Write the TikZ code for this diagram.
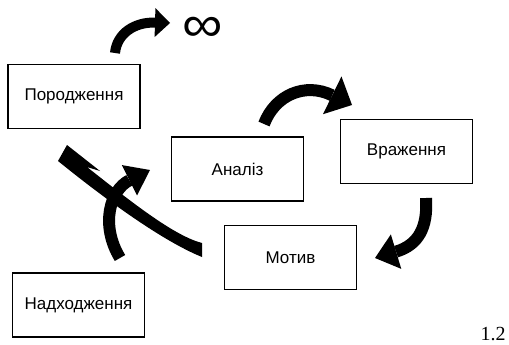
\documentclass[tikz,border=0pt]{standalone}
\usepackage{fontspec}
\setmainfont{Liberation Sans}
\newfontfamily\serifnum{Liberation Serif}
\usetikzlibrary{arrows.meta}
\begin{document}
\begin{tikzpicture}[x=1pt,y=-1pt,
  box/.style={draw,line width=1.6pt,minimum width=132pt,minimum height=64pt,inner sep=0pt,font=\fontsize{17}{19}\selectfont},
  blk/.style={line width=#1,line cap=butt},
]
\useasboundingbox (0,0) rectangle (509,345);
\node[box] (porod) at (74,96.5) {Породження};
\node[box] (anal) at (237.5,169) {Аналіз};
\node[box] (vraz) at (406.5,151.5) {Враження};
\node[box] (motiv) at (290.5,257.5) {Мотив};
\node[box] (nadh) at (78.5,305) {Надходження};
\node[inner sep=0pt] (inf) at (203,29) {\scalebox{1.03}[0.92]{\fontsize{55}{55}\selectfont ∞}};
\node (num) at (493,334) {\serifnum\fontsize{20}{22}\selectfont 1.2};
% arrow 1: Породження -> infinity
\coordinate (a1s) at (115,53);
\coordinate (a1e) at (170,23);
\draw[blk=10pt,-{Triangle[length=15pt,width=29pt,line width=0pt]}] (a1s) .. controls (117,33) and (135,22) .. (a1e);
% arrow 2: Аналіз -> Враження
\coordinate (a2s) at (264,124);
\coordinate (a2e) at (352,105);
\draw[blk=12pt,-{Triangle[length=22pt,width=42pt,line width=0pt]}] (a2s) .. controls (275,95) and (305,82) .. (a2e);
% arrow 3: Враження -> Мотив
\coordinate (a3s) at (426,198);
\coordinate (a3e) at (375,258);
\draw[blk=12pt,-{Triangle[length=22pt,width=36pt,line width=0pt]}] (a3s) .. controls (428,228) and (418,245) .. (a3e);
% arrow 4: Мотив -> Породження
\fill (202,243) .. controls (175,236) and (135,205) .. (87,167) -- (100,171) -- (67,145) -- (58,161)
  .. controls (100,195) and (160,240) .. (202,257) -- cycle;
% arrow 5: Надходження -> Аналіз
\coordinate (a5s) at (120,258);
\coordinate (a5e) at (150,170);
\draw[blk=12pt,-{Triangle[length=23pt,width=34pt,line width=0pt]}] (a5s) .. controls (100,225) and (110,190) .. (a5e);
\end{tikzpicture}
\end{document}
